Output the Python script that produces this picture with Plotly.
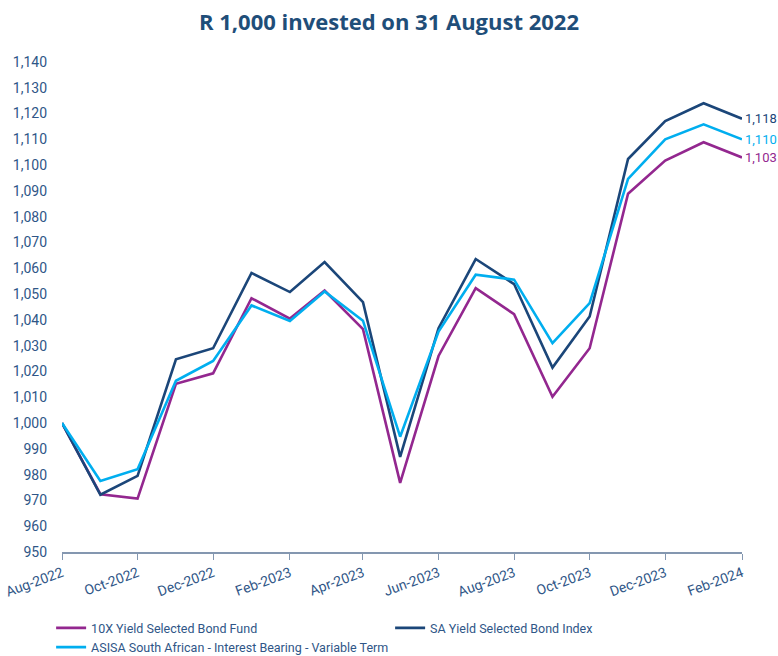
import plotly.graph_objects as go

months = ["2022-08-01","2022-09-01","2022-10-01","2022-11-01","2022-12-01","2023-01-01",
          "2023-02-01","2023-03-01","2023-04-01","2023-05-01","2023-06-01","2023-07-01",
          "2023-08-01","2023-09-01","2023-10-01","2023-11-01","2023-12-01","2024-01-01","2024-02-01"]

fund_10x = [1000, 972.4, 970.7, 1015.2, 1019.3, 1048.4, 1040.5, 1051.4, 1036.4, 976.8,
            1026.0, 1052.3, 1042.2, 1010.2, 1029.0, 1088.9, 1101.8, 1108.9, 1103]
sa_index = [1000, 972.2, 979.5, 1024.7, 1029.0, 1058.2, 1050.8, 1062.4, 1046.9, 986.9,
            1036.8, 1063.6, 1053.9, 1021.5, 1041.3, 1102.4, 1117.1, 1124.0, 1118]
asisa = [1000, 977.5, 982.1, 1016.4, 1024.1, 1045.6, 1039.6, 1051.0, 1039.7, 994.7,
         1035.5, 1057.5, 1055.6, 1031.0, 1046.5, 1094.7, 1110.0, 1115.8, 1110]

names = ["10X Yield Selected Bond Fund", "SA Yield Selected Bond Index",
         "ASISA South African - Interest Bearing - Variable Term"]
end_labels = ["1,103", "1,118", "1,110"]
colors = ["#93278F", "#1B4679", "#00AEEF"]
series = [fund_10x, sa_index, asisa]

text_color = "#2F5687"

fig = go.Figure()
for name, vals, col in zip(names, series, colors):
    fig.add_trace(go.Scatter(x=months, y=vals, mode="lines", name=name,
                             line=dict(color=col, width=2.6)))

for vals, lab, col in zip(series, end_labels, colors):
    fig.add_annotation(x=months[-1], y=vals[-1], text=lab, showarrow=False,
                       xanchor="left", xshift=1, font=dict(color=col, size=13, family="Roboto"))

fig.update_layout(
    width=778, height=656,
    paper_bgcolor="white", plot_bgcolor="white",
    margin=dict(l=62, r=36, t=62, b=104, autoexpand=False),
    title=dict(text="<b>R 1,000 invested on 31 August 2022</b>", x=0.5, xanchor="center",
               y=0.966, yanchor="middle",
               font=dict(family="Open Sans", size=22, color="#1F4E79")),
    font=dict(family="Roboto", color=text_color, size=13),
    showlegend=True,
    legend=dict(orientation="h", x=-0.016, xanchor="left", y=-0.125, yanchor="top",
                entrywidth=294, entrywidthmode="pixels", tracegroupgap=0,
                font=dict(size=12.5, color=text_color, family="Roboto"),
                itemwidth=30),
)

fig.update_xaxes(
    range=[months[0], months[-1]], type="date", automargin=False,
    tickformat="%b-%Y", dtick="M2", tick0=months[0], tickangle=-20,
    ticklabeloverflow="allow",
    showline=True, linecolor="#8497B0", linewidth=1.5,
    ticks="outside", ticklen=6, tickcolor="#8497B0",
    showgrid=False, zeroline=False,
    tickfont=dict(size=14, color=text_color),
)
fig.update_yaxes(
    range=[950, 1140], dtick=10, tick0=950, tickformat=",d", automargin=False,
    showgrid=False, zeroline=False, showline=False,
    ticks="", ticklabelstandoff=14,
    tickfont=dict(size=14, color=text_color),
)

fig.write_html("out.html", config={"displayModeBar": False},
               post_script="document.body.style.margin='0';")
